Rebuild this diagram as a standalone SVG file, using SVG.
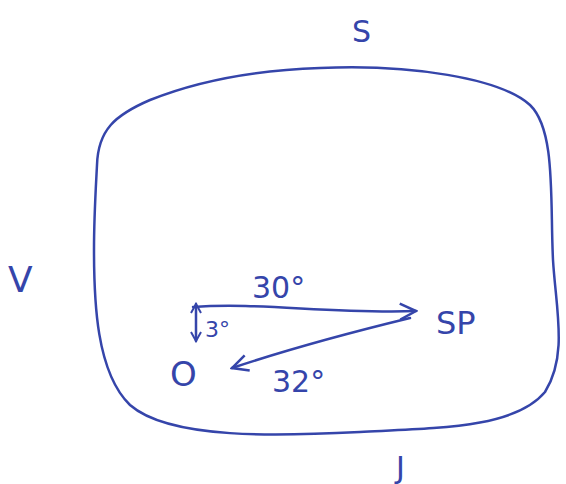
<svg xmlns="http://www.w3.org/2000/svg" width="566" height="484" viewBox="0 0 566 484">
<style>
.ink{fill:none;stroke:#3545aa;stroke-width:2.5;stroke-linecap:round;stroke-linejoin:round}
.t{fill:#3545aa;font-family:"DejaVu Sans",sans-serif;font-weight:normal}
</style>
<defs>
<marker id="ah" viewBox="0 0 12 12" refX="10" refY="6" markerWidth="12" markerHeight="12" markerUnits="userSpaceOnUse" orient="auto-start-reverse">
<path d="M1,1 L10,6 L1,11" fill="none" stroke="#3545aa" stroke-width="2"/>
</marker>
<marker id="ah2" viewBox="0 0 20 20" refX="18" refY="10" markerWidth="20" markerHeight="20" markerUnits="userSpaceOnUse" orient="auto-start-reverse">
<path d="M2,2 L18,10 L2,18" fill="none" stroke="#3545aa" stroke-width="2.5"/>
</marker>
</defs>
<rect width="566" height="484" fill="#ffffff"/>
<g id="boundary">
<path class="ink" d="M97,165 C98,130 115,115 150,100 C200,80 260,70 320,68 C410,64 500,78 530,105 C556,130 550,200 553,260 C556,310 568,355 545,392 C515,428 440,428 360,432 C280,436 170,440 130,405 C96,372 94,300 94,250 C94,215 96,185 97,165 Z"/>
</g>
<g id="labels">
<text class="t" x="352" y="42" font-size="30">S</text>
<text class="t" x="8" y="292" font-size="36">V</text>
<text class="t" x="396" y="478" font-size="30">J</text>
</g>
<g id="node-SP"><text class="t" x="436" y="334" font-size="32">SP</text></g>
<g id="node-O"><text class="t" x="170" y="386" font-size="34">O</text></g>
<g id="connectors">
<path class="ink" d="M193,307 C260,302 330,314 416,311" marker-end="url(#ah2)"/>
<path class="ink" d="M410,318 C340,335 280,352 232,368" marker-end="url(#ah2)"/>
<path class="ink" d="M196,304 L196,341" marker-start="url(#ah)" marker-end="url(#ah)"/>
</g>
<g id="edge-labels">
<text class="t" x="252" y="298" font-size="30">30°</text>
<text class="t" x="272" y="392" font-size="30">32°</text>
<text class="t" x="205" y="337" font-size="22">3°</text>
</g>
</svg>
